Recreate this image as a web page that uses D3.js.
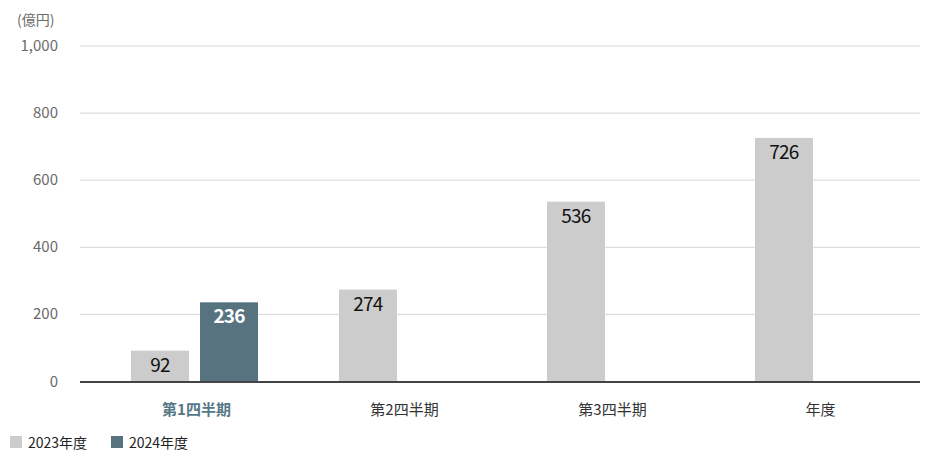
<!DOCTYPE html>
<html>
<head>
<meta charset="utf-8">
<script src="https://cdn.jsdelivr.net/npm/d3@7"></script>
<style>
  body { margin: 0; background: #fff; font-family: "Noto Sans CJK JP", "Noto Sans", sans-serif; }
  svg text { font-family: "Noto Sans CJK JP", "Noto Sans", sans-serif; }
</style>
</head>
<body>
<svg id="chart" width="936" height="456"></svg>
<script>
// --- data ---
const categories = ['第1四半期', '第2四半期', '第3四半期', '年度'];
const seriesNames = ['2023年度', '2024年度'];
const values2023 = [92, 274, 536, 726];
const values2024 = [236, null, null, null];
const yTicks = [0, 200, 400, 600, 800, 1000];
const colors = ['#cccccc', '#56737f'];

const svg = d3.select('#chart');

// scales
const y = d3.scaleLinear().domain([0, 1000]).range([381.5, 46]);
const x0 = d3.scaleBand().domain(categories).range([90.5, 922.5]).padding(0);
const x1 = d3.scaleBand().domain(seriesNames).range([40.5, 167.5]).paddingInner(0.16).paddingOuter(0);

// gridlines
svg.append('g').selectAll('line')
  .data(yTicks.filter(d => d > 0))
  .join('line')
  .attr('x1', 80).attr('x2', 920)
  .attr('y1', d => y(d)).attr('y2', d => y(d))
  .attr('stroke', '#d6d6d6').attr('stroke-width', 1);

// y axis labels
svg.append('g').selectAll('text')
  .data(yTicks)
  .join('text')
  .attr('x', 58).attr('y', d => y(d) + 5)
  .attr('text-anchor', 'end')
  .attr('fill', '#6a6a6a').style('font-size', '15px')
  .text(d => d3.format(',')(d));

svg.append('text')
  .attr('x', 17).attr('y', 25)
  .attr('fill', '#6a6a6a').style('font-size', '14px')
  .text('(億円)');

// bars
const rows = categories.map((c, i) => ({ cat: c, vals: [values2023[i], values2024[i]] }));

const groups = svg.append('g').selectAll('g')
  .data(rows)
  .join('g')
  .attr('transform', d => `translate(${x0(d.cat)},0)`);

groups.selectAll('rect')
  .data(d => d.vals.map((v, k) => ({ s: seriesNames[k], v, k })).filter(e => e.v != null))
  .join('rect')
  .attr('x', e => x1(e.s))
  .attr('width', x1.bandwidth())
  .attr('y', e => y(e.v))
  .attr('height', e => y(0) - y(e.v))
  .attr('fill', e => colors[e.k]);

groups.selectAll('text.val')
  .data(d => d.vals.map((v, k) => ({ s: seriesNames[k], v, k })).filter(e => e.v != null))
  .join('text')
  .attr('class', 'val')
  .attr('x', e => x1(e.s) + x1.bandwidth() / 2)
  .attr('y', e => y(e.v) + 21)
  .attr('text-anchor', 'middle')
  .attr('fill', e => e.k === 1 ? '#fff' : '#111')
  .style('font-size', '19px')
  .style('font-weight', e => e.k === 1 ? 'bold' : 'normal')
  .style('letter-spacing', '-0.8px')
  .text(e => e.v);

// baseline
svg.append('line')
  .attr('x1', 80).attr('x2', 920)
  .attr('y1', y(0) + 0.5).attr('y2', y(0) + 0.5)
  .attr('stroke', '#444').attr('stroke-width', 2);

// category labels
svg.append('g').selectAll('text')
  .data(categories)
  .join('text')
  .attr('x', d => x0(d) + x0.bandwidth() / 2 + 2)
  .attr('y', 415)
  .attr('text-anchor', 'middle')
  .attr('fill', (d, i) => i === 0 ? '#557786' : '#333')
  .style('font-size', '15px')
  .style('font-weight', (d, i) => i === 0 ? 'bold' : 'normal')
  .text(d => d);

// legend
const legend = svg.append('g').selectAll('g')
  .data(seriesNames)
  .join('g')
  .attr('transform', (d, i) => `translate(${10 + i * 101},436)`);

legend.append('rect')
  .attr('width', 12).attr('height', 12)
  .attr('fill', (d, i) => colors[i]);

legend.append('text')
  .attr('x', 18).attr('y', 12)
  .attr('fill', '#222').style('font-size', '14px')
  .text(d => d);
</script>
</body>
</html>
